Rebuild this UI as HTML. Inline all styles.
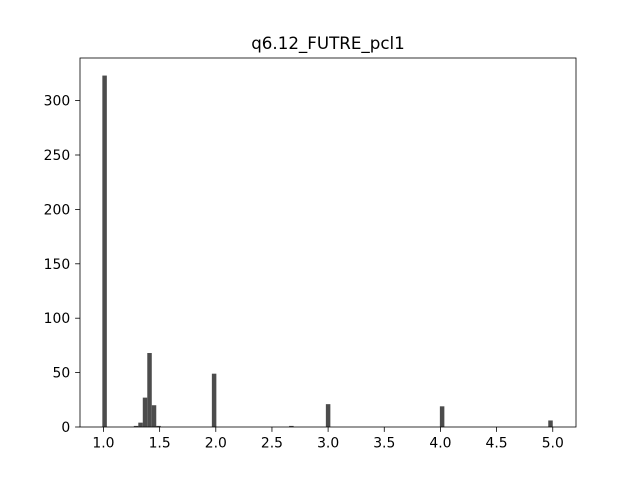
<!DOCTYPE html>
<html><head><meta charset="utf-8"><style>
body{margin:0;background:#fff;font-family:"Liberation Sans","DejaVu Sans",sans-serif;}
svg text{font-family:"DejaVu Sans","Liberation Sans",sans-serif;font-size:13.9px;fill:#000;}
</style></head><body>
<svg id="c" width="640" height="480" xmlns="http://www.w3.org/2000/svg">
<rect width="640" height="480" fill="#fff"/>
<text x="328" y="49" text-anchor="middle" style="font-size:16.7px">q6.12_FUTRE_pcl1</text>
<g id="bars"></g><g id="axes"></g>
<rect x="80" y="58" width="496" height="369" fill="none" stroke="#000" stroke-width="0.8"/>
</svg>
<script>
const binStarts=[0.99,1.27,1.31,1.35,1.39,1.43,1.47,1.965,2.653,2.98,3.995,4.96];
const counts=[323,1,4,27,68,20,1,49,1,21,19,6];
const binWidth=0.04;
const xTicks=[1.0,1.5,2.0,2.5,3.0,3.5,4.0,4.5,5.0];
const yTicks=[0,50,100,150,200,250,300];
const X0=80,X1=576,Y0=427,Y1=58;
const xmin=0.791,xmax=5.207,ymax=339.15;
const sx=v=>X0+(v-xmin)/(xmax-xmin)*(X1-X0);
const sy=v=>Y0-v/ymax*(Y0-Y1);
const NS="http://www.w3.org/2000/svg";
const bars=document.getElementById('bars'),axes=document.getElementById('axes');
binStarts.forEach((b,i)=>{
 const r=document.createElementNS(NS,'rect');
 r.setAttribute('x',sx(b));r.setAttribute('width',sx(b+binWidth)-sx(b));
 r.setAttribute('y',sy(counts[i]));r.setAttribute('height',Y0-sy(counts[i]));
 r.setAttribute('fill','#4c4c4c');
 
 
 bars.appendChild(r);
});
xTicks.forEach(t=>{
 const l=document.createElementNS(NS,'line');
 l.setAttribute('x1',sx(t));l.setAttribute('x2',sx(t));l.setAttribute('y1',Y0);l.setAttribute('y2',Y0+4.9);l.setAttribute('stroke','#000');l.setAttribute('stroke-width','0.8');
 
 
 axes.appendChild(l);
 const tx=document.createElementNS(NS,'text');
 tx.setAttribute('x',sx(t));tx.setAttribute('y',Y0+20.5);tx.setAttribute('text-anchor','middle');tx.textContent=t.toFixed(1);
 
 
 axes.appendChild(tx);
});
yTicks.forEach(t=>{
 const l=document.createElementNS(NS,'line');
 l.setAttribute('x1',X0-4.9);l.setAttribute('x2',X0);l.setAttribute('y1',sy(t));l.setAttribute('y2',sy(t));l.setAttribute('stroke','#000');l.setAttribute('stroke-width','0.8');
 
 
 axes.appendChild(l);
 const tx=document.createElementNS(NS,'text');
 tx.setAttribute('x',X0-9.8);tx.setAttribute('y',sy(t)+5);tx.setAttribute('text-anchor','end');tx.textContent=t;
 
 
 axes.appendChild(tx);
});
</script>
</body></html>
